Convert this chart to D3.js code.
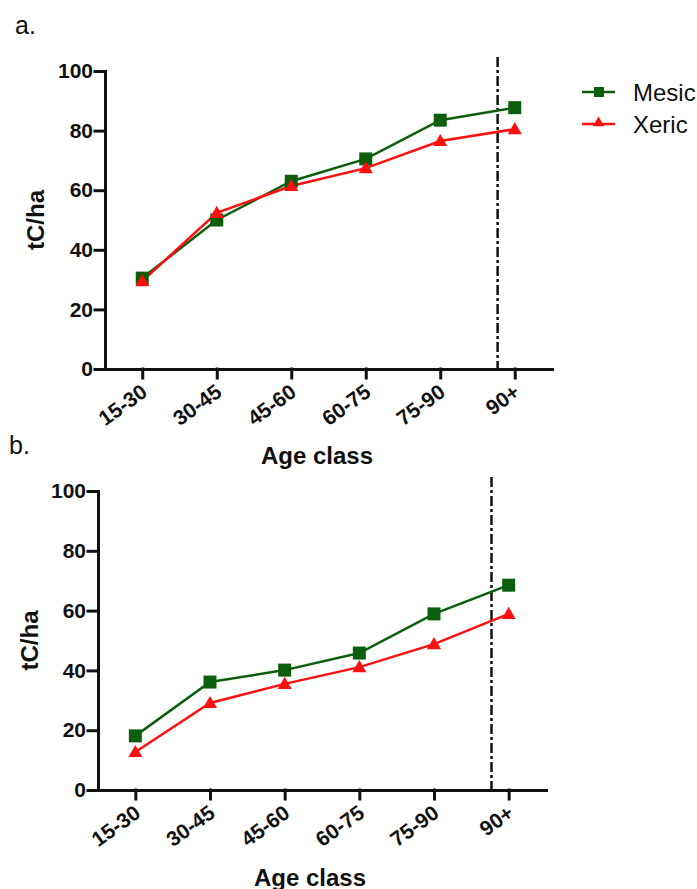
<!DOCTYPE html>
<html>
<head>
<meta charset="utf-8">
<script src="https://d3js.org/d3.v7.min.js"></script>
<style>
  body { margin: 0; background: #fff; }
  svg text { font-family: "Liberation Sans", Arial, sans-serif; }
</style>
</head>
<body>
<div id="chart"></div>
<script>
// data
var ageClasses = ["15-30", "30-45", "45-60", "60-75", "75-90", "90+"];
var yTicks = [0, 20, 40, 60, 80, 100];
var mesicA = [30.5, 50, 63, 70.5, 83.5, 87.7];
var xericA = [29.5, 52.4, 61.4, 67.4, 76.5, 80.5];
var mesicB = [18.1, 36.1, 40.1, 45.8, 58.9, 68.5];
var xericB = [12.7, 29.1, 35.5, 41.1, 48.8, 58.9];
var seriesNames = ["Mesic", "Xeric"];
// dashed cut-off sits between "75-90" and "90+"
var cutoffFrac = 0.77;

var green = "#0b5e0b", red = "#ff1010";

var svg = d3.select("#chart")
  .append("svg")
    .attr("width", 697)
    .attr("height", 889);

function drawPanel(p) {
  var x = d3.scalePoint()
    .domain(ageClasses)
    .range([p.left, p.right])
    .padding(0.5);
  var y = d3.scaleLinear()
    .domain([0, 100])
    .range([p.bottom, p.top]);

  var g = svg.append("g");

  // y axis
  var ya = g.append("g")
    .attr("transform", "translate(" + p.left + ",0)")
    .call(d3.axisLeft(y).tickValues(yTicks).tickSize(10).tickSizeOuter(0).tickPadding(2));
  // x axis
  var xa = g.append("g")
    .attr("transform", "translate(0," + p.bottom + ")")
    .call(d3.axisBottom(x).tickSize(9).tickSizeOuter(0));

  [ya, xa].forEach(function(a) {
    a.selectAll("path, line")
      .attr("stroke", "#111")
      .attr("stroke-width", 3)
      .attr("stroke-linecap", "square");
    a.selectAll("text")
      .attr("fill", "#111")
      .style("font-size", "21px")
      .style("font-weight", "bold");
  });

  xa.selectAll("text")
    .attr("text-anchor", "end")
    .attr("dy", null)
    .attr("y", null)
    .attr("transform", "translate(6,26) rotate(-36)");

  // dash-dot cut-off line
  var cx = x("75-90") + cutoffFrac * x.step();
  g.append("line")
    .attr("x1", cx).attr("x2", cx)
    .attr("y1", p.top - 14).attr("y2", p.bottom)
    .attr("stroke", "#111")
    .attr("stroke-width", 2.5)
    .attr("stroke-dasharray", "10,3,3,3");

  var line = d3.line()
    .x(function(d, i) { return x(ageClasses[i]); })
    .y(function(d) { return y(d); });

  g.append("path")
    .datum(p.mesic)
    .attr("d", line)
    .attr("fill", "none")
    .attr("stroke", green)
    .attr("stroke-width", 2.5);
  g.append("path")
    .datum(p.xeric)
    .attr("d", line)
    .attr("fill", "none")
    .attr("stroke", red)
    .attr("stroke-width", 2.5);

  g.selectAll(".sq")
    .data(p.mesic)
    .enter()
    .append("rect")
      .attr("x", function(d, i) { return x(ageClasses[i]) - 6.5; })
      .attr("y", function(d) { return y(d) - 6.5; })
      .attr("width", 13)
      .attr("height", 13)
      .attr("fill", green);

  var tri = d3.symbol().type(d3.symbolTriangle).size(85);
  g.selectAll(".tri")
    .data(p.xeric)
    .enter()
    .append("path")
      .attr("d", tri)
      .attr("transform", function(d, i) { return "translate(" + x(ageClasses[i]) + "," + (y(d) + 1) + ")"; })
      .attr("fill", red);

  // titles
  g.append("text")
    .attr("x", p.xTitleX)
    .attr("y", p.xTitleY)
    .attr("text-anchor", "middle")
    .style("font-size", "24px")
    .style("font-weight", "bold")
    .attr("fill", "#111")
    .text("Age class");

  g.append("text")
    .attr("transform", "translate(" + p.yTitleX + "," + ((p.top + p.bottom) / 2) + ") rotate(-90)")
    .attr("text-anchor", "middle")
    .style("font-size", "24px")
    .style("font-weight", "bold")
    .attr("fill", "#111")
    .text("tC/ha");

  g.append("text")
    .attr("x", p.labelX)
    .attr("y", p.labelY)
    .style("font-size", "25px")
    .attr("fill", "#111")
    .text(p.label);
}

drawPanel({
  left: 105, right: 552, top: 71, bottom: 369,
  mesic: mesicA, xeric: xericA,
  xTitleX: 317, xTitleY: 464,
  yTitleX: 44, label: "a.", labelX: 15, labelY: 34
});

drawPanel({
  left: 98, right: 546, top: 491, bottom: 790,
  mesic: mesicB, xeric: xericB,
  xTitleX: 310, xTitleY: 886,
  yTitleX: 38, label: "b.", labelX: 9, labelY: 454
});

// legend
var legend = svg.append("g").attr("transform", "translate(582,0)");
var legendY = [92, 124];
var legendColor = [green, red];
seriesNames.forEach(function(name, i) {
  legend.append("line")
    .attr("x1", 0).attr("x2", 33)
    .attr("y1", legendY[i]).attr("y2", legendY[i])
    .attr("stroke", legendColor[i])
    .attr("stroke-width", 2.5);
  if (i === 0) {
    legend.append("rect")
      .attr("x", 12).attr("y", legendY[i] - 5)
      .attr("width", 10).attr("height", 10)
      .attr("fill", green);
  } else {
    legend.append("path")
      .attr("d", d3.symbol().type(d3.symbolTriangle).size(55))
      .attr("transform", "translate(16.5," + (legendY[i] - 1) + ")")
      .attr("fill", red);
  }
  legend.append("text")
    .attr("x", 51)
    .attr("y", legendY[i])
    .attr("dy", "0.36em")
    .style("font-size", "24px")
    .attr("fill", "#111")
    .text(name);
});
</script>
</body>
</html>
